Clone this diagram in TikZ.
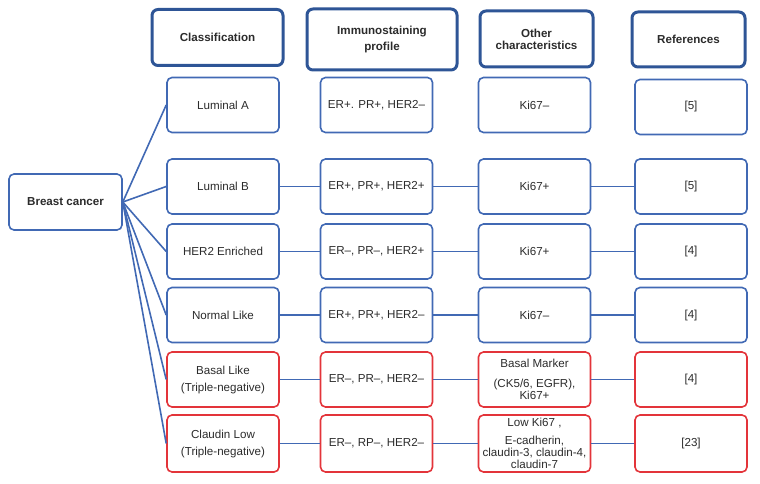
\documentclass[tikz,border=0pt]{standalone}
\usepackage{fontspec}
\setmainfont{Liberation Sans}
\usetikzlibrary{positioning}
\definecolor{boxblue}{HTML}{4169B4}
\definecolor{headblue}{HTML}{2E5596}
\definecolor{boxred}{HTML}{E3343A}
\definecolor{txtgray}{HTML}{2B2B2B}
\tikzset{
    every node/.style={font=\fontsize{11.6}{17}\selectfont,text=txtgray},
    headbox/.style={rounded corners=6pt,draw=headblue,line width=3pt,align=center,font=\fontsize{11.6}{16}\selectfont\bfseries},
    cellbox/.style={rounded corners=5pt,draw=boxblue,line width=1.6pt,minimum width=112pt,minimum height=55pt,align=center,inner sep=2pt},
    tnbox/.style={cellbox,draw=boxred},
    link/.style={draw=boxblue,line width=1.6pt}
}
\begin{document}
\begin{tikzpicture}[x=1pt,y=-1pt]
\useasboundingbox (0,0) rectangle (760,484);
% column heads
\node[headbox,minimum width=131pt,minimum height=56pt] (hclass) at (217.5,37.5) {Classification};
\node[headbox,minimum width=150pt,minimum height=61pt] (himmuno) at (382,39.5) {Immunostaining\\profile};
\node[headbox,minimum width=113pt,minimum height=56pt,font=\fontsize{11.6}{12}\selectfont\bfseries] (hother) at (536.5,39) {Other\\characteristics};
\node[headbox,minimum width=113pt,minimum height=55pt] (hrefs) at (688.5,39.5) {References};
% root
\node[cellbox,font=\fontsize{11.6}{12}\selectfont\bfseries,minimum width=113pt,minimum height=56pt] (bc) at (65.5,202) {Breast cancer};
% subtypes
\node[cellbox] (lumA) at (223,105) {Luminal A};
\node[cellbox] (lumAimm) at (376.5,105) {ER+. PR+, HER2\textendash};
\node[cellbox] (lumAoth) at (534.5,105) {Ki67\textendash};
\node[cellbox] (lumAref) at (691,107) {[5]};
\node[cellbox] (lumB) at (223,186.5) {Luminal B};
\node[cellbox] (lumBimm) at (376.5,186.5) {ER+, PR+, HER2+};
\node[cellbox] (lumBoth) at (534.5,186.5) {Ki67+};
\node[cellbox] (lumBref) at (691,186.5) {[5]};
\node[cellbox] (her) at (223,251.5) {HER2 Enriched};
\node[cellbox] (herimm) at (376.5,251.5) {ER\textendash, PR\textendash, HER2+};
\node[cellbox] (heroth) at (534.5,251.5) {Ki67+};
\node[cellbox] (herref) at (691,251.5) {[4]};
\node[cellbox] (norm) at (223,315) {Normal Like};
\node[cellbox] (normimm) at (376.5,315) {ER+, PR+, HER2\textendash};
\node[cellbox] (normoth) at (534.5,315) {Ki67\textendash};
\node[cellbox] (normref) at (691,315) {[4]};
\node[tnbox] (basal) at (223,379.5) {Basal Like\\(Triple-negative)};
\node[tnbox] (basalimm) at (376.5,379.5) {ER\textendash, PR\textendash, HER2\textendash};
\node[tnbox,font=\fontsize{11.6}{12}\selectfont] (basaloth) at (534.5,379.5) {Basal Marker\\[8pt](CK5/6, EGFR),\\Ki67+};
\node[tnbox] (basalref) at (691,379.5) {[4]};
\node[tnbox,minimum height=57pt] (claud) at (223,443.5) {Claudin Low\\(Triple-negative)};
\node[tnbox,minimum height=57pt] (claudimm) at (376.5,443.5) {ER\textendash, RP\textendash, HER2\textendash};
\node[tnbox,minimum height=57pt,font=\fontsize{11.6}{12}\selectfont] (claudoth) at (534.5,443.5) {Low Ki67 ,\\[6pt]E-cadherin,\\claudin-3, claudin-4,\\claudin-7};
\node[tnbox,minimum height=57pt] (claudref) at (691,443.5) {[23]};
% fan from the root
\foreach \t in {lumA,lumB,her,norm,basal,claud}
    \draw[link] (bc.east) -- (\t.west);
% row links
\foreach \r in {lumB,her,norm,basal,claud}{
    \draw[link] (\r) -- (\r imm);
    \draw[link] (\r imm) -- (\r oth);
    \draw[link] (\r oth) -- (\r ref);
}
\end{tikzpicture}
\end{document}
